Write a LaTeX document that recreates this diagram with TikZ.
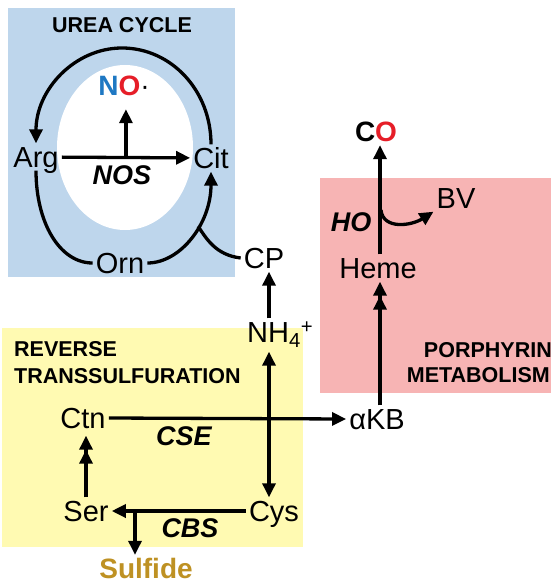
\documentclass[tikz,border=0pt]{standalone}
\usepackage{fontspec}
\setmainfont{Liberation Sans}
\usetikzlibrary{arrows.meta,calc}

\definecolor{ureablue}{RGB}{190,214,236}
\definecolor{porphpink}{RGB}{247,180,180}
\definecolor{transyellow}{RGB}{255,250,178}
\definecolor{sulfgold}{RGB}{190,145,35}
\definecolor{nblue}{RGB}{30,120,195}
\definecolor{ored}{RGB}{230,30,40}

\tikzset{
  mol/.style={font=\fontsize{29}{32}\selectfont, text height=21pt, text depth=0pt, inner sep=3pt},
  prod/.style={font=\fontsize{28}{30}\selectfont\bfseries, text height=20pt, text depth=0pt, inner sep=3pt},
  enz/.style={font=\fontsize{27}{30}\selectfont\bfseries\itshape, inner sep=0pt, anchor=base},
  hdr/.style={font=\fontsize{21.5}{24}\selectfont\bfseries, inner sep=0pt},
  ln/.style={line width=3.3pt},
  arr/.style={ln, -{Triangle[length=14pt,width=13pt]}},
  arrtwo/.style={ln, -{Triangle[length=14pt,width=13pt]Triangle[length=14pt,width=13pt]}},
  arrboth/.style={ln, {Triangle[length=14pt,width=13pt]}-{Triangle[length=14pt,width=13pt]}}
}

\begin{document}
\begin{tikzpicture}[x=1pt, y=-1pt]
\useasboundingbox (0,0) rectangle (551,585);

\fill[ureablue] (8,8) rectangle (235,277);
\fill[porphpink] (320,178) rectangle (551,393);
\fill[transyellow] (2,328) rectangle (303,547);
\fill[white] (125,147.5) ellipse [x radius=68, y radius=82.5];

\node[hdr, anchor=base] (urea) at (122,33) {UREA CYCLE};
\node[hdr, anchor=base west] (rev) at (14,356) {REVERSE};
\node[hdr, anchor=base west] (trans) at (14,383) {TRANSSULFURATION};
\node[hdr, anchor=base east] (porph) at (552,357) {PORPHYRIN};
\node[hdr, anchor=base east] (metab) at (550,382) {METABOLISM};

\node[mol] (arg) at (36,157) {Arg};
\node[mol] (cit) at (211,158) {Cit};
\node[mol] (orn) at (120,263) {Orn};
\node[mol] (cp) at (264,258) {CP};
\node[mol, anchor=west] (nh) at (244,332) {NH\textsubscript{4}\textsuperscript{+}};
\node[mol] (cys) at (274,511) {Cys};
\node[mol] (ser) at (86,511) {Ser};
\node[mol] (ctn) at (83,418) {Ctn};
\node[mol] (akb) at (377,419) {αKB};
\node[mol] (heme) at (378,268) {Heme};
\node[mol] (bv) at (456,198) {BV};

\node[prod] (no) at (124,86) {\textcolor{nblue}{N}\textcolor{ored}{O}\textmd{·}};
\node[prod] (co) at (376,132) {C\textcolor{ored}{O}};
\node[prod, text=sulfgold] (sulf) at (146,568) {Sulfide};

\node[enz] (nos) at (122,185) {NOS};
\node[enz] (cse) at (184,445) {CSE};
\node[enz] (cbs) at (190,537) {CBS};
\node[enz] (ho) at (351,231) {HO};

\coordinate (top) at (122,48);
\coordinate (split) at ($(arg.east)!0.5!(cit.west)$);
\coordinate (vx) at (269,0);
\coordinate (hx) at (380,0);
\coordinate (ssplit) at (135,511);
\coordinate (hosplit) at (381,210);

\draw[arr] (arg) -- (cit);
\draw[arr, shorten >=10pt] (split) -- (split |- no.south);
\draw[arr] (cit.north) .. controls +(0,-54) and +(49,0) .. (top)
  .. controls +(-47,0) and +(0,-54) .. (arg.north);
\draw[ln] (arg.south) .. controls +(0,52) and +(-33,0) .. (orn.west);
\draw[arr] (orn.east) .. controls +(33,0) and +(0,52) .. coordinate[pos=0.6] (join) (cit.south);
\draw[ln] (cp.west) .. controls +(-25,-3) and +(8,12) .. (join);

\draw[arr] (nh.north -| vx) -- (cp.south -| vx);
\draw[arrboth, shorten <=6pt] (nh.south -| vx) -- (cys.north -| vx);
\draw[arr] (cys.west) -- (ser.east);
\draw[arr] (ssplit) -- (ssplit |- sulf.north);
\draw[arrtwo, shorten >=4pt] (ser.north) -- (ser.north |- ctn.south);
\draw[arr] (ctn.east) -- (akb.west);

\draw[arrtwo] (akb.north -| hx) -- (heme.south -| hx);
\draw[arr] (heme.north -| hx) -- (co.south -| hx);
\draw[arr] (hosplit) .. controls +(2,20) and +(-22,14) .. (bv.south west);

\end{tikzpicture}
\end{document}
